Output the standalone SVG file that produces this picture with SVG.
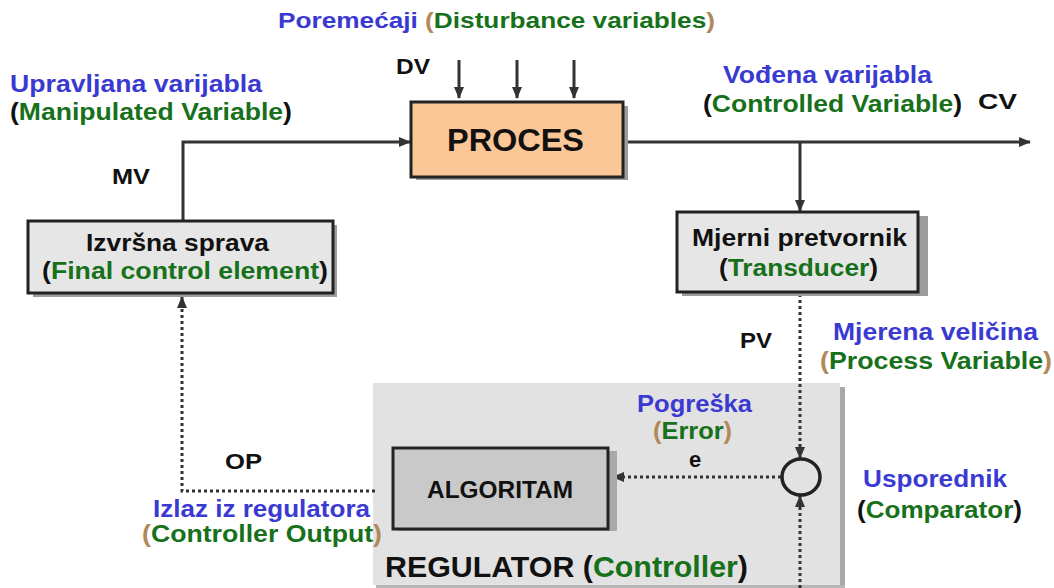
<svg xmlns="http://www.w3.org/2000/svg" width="1054" height="588" viewBox="0 0 1054 588">
<style>
text{font-family:"Liberation Sans",Arial,sans-serif;font-weight:bold;fill:#111}
.b{fill:#3a3ad2}
.g{fill:#17701a}
.t{fill:#b0885a}
.s{fill:none;stroke:#333;stroke-width:3}
.d{fill:none;stroke:#333;stroke-width:3;stroke-dasharray:3 3}
.box{stroke:#222;stroke-width:3}
.sh{fill:#9c9c9c}
</style>
<defs>
<marker id="ah" markerUnits="userSpaceOnUse" markerWidth="12" markerHeight="12" viewBox="0 0 12 12" refX="11" refY="6" orient="auto">
<path d="M0,1 L12,6 L0,11 Z" fill="#333"/>
</marker>
</defs>
<rect width="1054" height="588" fill="#fff"/>

<g id="regulator">
<rect x="840" y="387" width="5" height="201" fill="#a8a8a8"/>
<rect x="373" y="383" width="467" height="202" fill="#e2e2e2"/>
<rect x="376" y="585" width="469" height="3" fill="#b5b5b5"/>
<text x="385" y="577" font-size="30" textLength="363" lengthAdjust="spacingAndGlyphs">REGULATOR <tspan>(</tspan><tspan class="g">Controller</tspan>)</text>
</g>

<g id="labels">
<text x="278" y="28" font-size="22" textLength="437" lengthAdjust="spacingAndGlyphs"><tspan class="b">Poremećaji </tspan><tspan class="t">(</tspan><tspan class="g">Disturbance variables</tspan><tspan class="t">)</tspan></text>
<text x="10" y="92" font-size="23" class="b" textLength="252" lengthAdjust="spacingAndGlyphs">Upravljana varijabla</text>
<text x="10" y="120" font-size="23" textLength="282" lengthAdjust="spacingAndGlyphs">(<tspan class="g">Manipulated Variable</tspan>)</text>
<text x="112" y="184" font-size="22" textLength="38" lengthAdjust="spacingAndGlyphs">MV</text>
<text x="396" y="74" font-size="22" textLength="34" lengthAdjust="spacingAndGlyphs">DV</text>
<text x="723" y="83" font-size="23" class="b" textLength="209" lengthAdjust="spacingAndGlyphs">Vođena varijabla</text>
<text x="703" y="112" font-size="23" textLength="259" lengthAdjust="spacingAndGlyphs">(<tspan class="g">Controlled Variable</tspan>)</text>
<text x="978" y="109" font-size="22" textLength="39" lengthAdjust="spacingAndGlyphs">CV</text>
<text x="740" y="348" font-size="22" textLength="32" lengthAdjust="spacingAndGlyphs">PV</text>
<text x="833" y="340" font-size="23" class="b" textLength="205" lengthAdjust="spacingAndGlyphs">Mjerena veličina</text>
<text x="820" y="369" font-size="23" textLength="232" lengthAdjust="spacingAndGlyphs"><tspan class="t">(</tspan><tspan class="g">Process Variable</tspan><tspan class="t">)</tspan></text>
<text x="637" y="412" font-size="23" class="b" textLength="115" lengthAdjust="spacingAndGlyphs">Pogreška</text>
<text x="653" y="439" font-size="23" textLength="79" lengthAdjust="spacingAndGlyphs"><tspan class="t">(</tspan><tspan class="g">Error</tspan><tspan class="t">)</tspan></text>
<text x="689" y="467" font-size="22">e</text>
<text x="225" y="469" font-size="22" textLength="37" lengthAdjust="spacingAndGlyphs">OP</text>
<text x="153" y="517" font-size="23" class="b" textLength="217" lengthAdjust="spacingAndGlyphs">Izlaz iz regulatora</text>
<text x="142" y="542" font-size="23" textLength="240" lengthAdjust="spacingAndGlyphs"><tspan class="t">(</tspan><tspan class="g">Controller Output</tspan><tspan class="t">)</tspan></text>
<text x="863" y="487" font-size="23" class="b" textLength="144" lengthAdjust="spacingAndGlyphs">Usporednik</text>
<text x="857" y="518" font-size="23" textLength="165" lengthAdjust="spacingAndGlyphs">(<tspan class="g">Comparator</tspan>)</text>
</g>

<g id="connectors">
<path class="s" d="M183,222 V142 H410" marker-end="url(#ah)"/>
<path class="s" d="M459,60 V98" marker-end="url(#ah)"/>
<path class="s" d="M517,60 V98" marker-end="url(#ah)"/>
<path class="s" d="M574,60 V98" marker-end="url(#ah)"/>
<path class="s" d="M623,142 H1030" marker-end="url(#ah)"/>
<path class="s" d="M800,142 V211" marker-end="url(#ah)"/>
<path class="d" d="M800,294 V458" marker-end="url(#ah)"/>
<path class="d" d="M800,588 V496" marker-end="url(#ah)"/>
<path class="d" d="M781,477 H613" marker-end="url(#ah)"/>
<path class="d" d="M375,491 H182 V297" marker-end="url(#ah)"/>
</g>

<g id="proces">
<rect x="416" y="106" width="212" height="74" class="sh"/>
<rect x="411" y="102" width="212" height="75" fill="#fcc797" class="box"/>
<text x="447" y="151" font-size="31" textLength="137" lengthAdjust="spacingAndGlyphs">PROCES</text>
</g>

<g id="izvrsna">
<rect x="33" y="225" width="304" height="72" class="sh"/>
<rect x="28" y="221" width="305" height="72" fill="#e6e6e6" class="box"/>
<text x="86" y="251" font-size="23" textLength="183" lengthAdjust="spacingAndGlyphs">Izvršna sprava</text>
<text x="42" y="279" font-size="23" textLength="286" lengthAdjust="spacingAndGlyphs">(<tspan class="g">Final control element</tspan>)</text>
</g>

<g id="transducer">
<rect x="682" y="216" width="246" height="80" class="sh"/>
<rect x="677" y="212" width="241" height="80" fill="#e6e6e6" class="box"/>
<text x="692" y="246" font-size="23" textLength="215" lengthAdjust="spacingAndGlyphs">Mjerni pretvornik</text>
<text x="719" y="276" font-size="23" textLength="159" lengthAdjust="spacingAndGlyphs">(<tspan class="g">Transducer</tspan>)</text>
</g>

<g id="algoritam">
<rect x="398" y="451" width="219" height="80" fill="#a9a9a9"/>
<rect x="393" y="448" width="215" height="81" fill="#c9c9c9" class="box"/>
<text x="427" y="498" font-size="23" textLength="146" lengthAdjust="spacingAndGlyphs">ALGORITAM</text>
</g>

<g id="comparator">
<ellipse cx="801" cy="477" rx="19" ry="18" fill="none" stroke="#222" stroke-width="3.5"/>
</g>
</svg>
